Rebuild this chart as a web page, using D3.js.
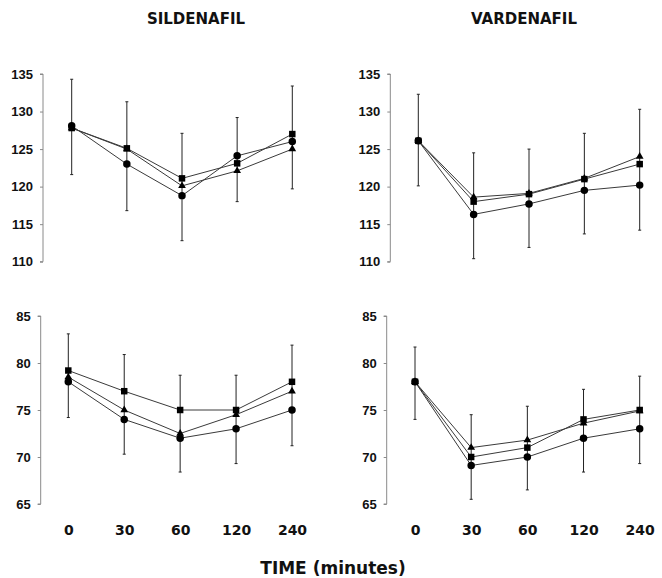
<!DOCTYPE html>
<html>
<head>
<meta charset="utf-8">
<script src="https://cdn.jsdelivr.net/npm/d3@7"></script>
<style>
  html, body { margin: 0; padding: 0; background: #fff; }
  svg { display: block; }
</style>
</head>
<body>
<svg id="chart" width="662" height="578"></svg>
<script>
// ---- data ----
const times = ["0", "30", "60", "120", "240"];
const drugTitles = ["SILDENAFIL", "VARDENAFIL"];
const xTitle = "TIME (minutes)";

const topTicks = [110, 115, 120, 125, 130, 135];
const bottomTicks = [65, 70, 75, 80, 85];

// Sildenafil, top (systolic)
const silTopSquare   = [127.8, 125.1, 121.1, 123.1, 127.0];
const silTopTriangle = [127.8, 125.0, 120.1, 122.1, 125.0];
const silTopCircle   = [128.1, 123.0, 118.8, 124.1, 126.0];
const silTopErrHi    = [134.3, 131.3, 127.1, 129.2, 133.4];
const silTopErrLo    = [121.6, 116.8, 112.8, 118.0, 119.7];

// Vardenafil, top (systolic)
const varTopSquare   = [126.1, 118.0, 119.0, 121.0, 123.0];
const varTopTriangle = [126.1, 118.6, 119.1, 121.1, 124.0];
const varTopCircle   = [126.1, 116.3, 117.7, 119.5, 120.2];
const varTopErrHi    = [132.3, 124.5, 125.0, 127.1, 130.3];
const varTopErrLo    = [120.1, 110.4, 111.9, 113.7, 114.2];

// Sildenafil, bottom (diastolic)
const silBotSquare   = [79.2, 77.0, 75.0, 75.0, 78.0];
const silBotTriangle = [78.5, 75.0, 72.5, 74.5, 77.0];
const silBotCircle   = [78.0, 74.0, 72.0, 73.0, 75.0];
const silBotErrHi    = [83.1, 80.9, 78.7, 78.7, 81.9];
const silBotErrLo    = [74.2, 70.3, 68.4, 69.3, 71.2];

// Vardenafil, bottom (diastolic)
const varBotSquare   = [78.0, 70.0, 71.0, 74.0, 75.0];
const varBotTriangle = [78.0, 71.0, 71.8, 73.6, 74.9];
const varBotCircle   = [78.0, 69.1, 70.0, 72.0, 73.0];
const varBotErrHi    = [81.7, 74.5, 75.4, 77.2, 78.6];
const varBotErrLo    = [74.0, 65.5, 66.5, 68.4, 69.3];

// ---- layout ----
const panels = [
  { axisX: 43,    x0: 71.7, x1: 292.3, y0: 261.7, y1: 74,  domain: [110, 135], ticks: topTicks,
    sq: silTopSquare, tri: silTopTriangle, ci: silTopCircle, hi: silTopErrHi, lo: silTopErrLo, xLabels: false },
  { axisX: 390.3, x0: 418.3, x1: 639.7, y0: 261.7, y1: 74,  domain: [110, 135], ticks: topTicks,
    sq: varTopSquare, tri: varTopTriangle, ci: varTopCircle, hi: varTopErrHi, lo: varTopErrLo, xLabels: false },
  { axisX: 40.7,  x0: 68.3, x1: 292,   y0: 504,   y1: 316, domain: [65, 85],   ticks: bottomTicks,
    sq: silBotSquare, tri: silBotTriangle, ci: silBotCircle, hi: silBotErrHi, lo: silBotErrLo, xLabels: true },
  { axisX: 386.7, x0: 415,  x1: 639.7, y0: 504,   y1: 316, domain: [65, 85],   ticks: bottomTicks,
    sq: varBotSquare, tri: varBotTriangle, ci: varBotCircle, hi: varBotErrHi, lo: varBotErrLo, xLabels: true }
];

const svg = d3.select("#chart");

// titles
svg.append("text").attr("x", 196).attr("y", 24).attr("text-anchor", "middle")
  .style("font-family", "'DejaVu Sans', Verdana, sans-serif").style("font-weight", "bold")
  .style("font-size", "15px").attr("fill", "#111").text(drugTitles[0]);
svg.append("text").attr("x", 524).attr("y", 24).attr("text-anchor", "middle")
  .style("font-family", "'DejaVu Sans', Verdana, sans-serif").style("font-weight", "bold")
  .style("font-size", "15px").attr("fill", "#111").text(drugTitles[1]);
svg.append("text").attr("x", 333).attr("y", 574).attr("text-anchor", "middle")
  .style("font-family", "'DejaVu Sans', Verdana, sans-serif").style("font-weight", "bold")
  .style("font-size", "17px").attr("fill", "#111").text(xTitle);

const lineColor = "#3a3a3a";

panels.forEach(p => {
  const x = d3.scalePoint().domain(times).range([p.x0, p.x1]);
  const y = d3.scaleLinear().domain(p.domain).range([p.y0, p.y1]);
  const g = svg.append("g");

  // y axis
  const yAxis = d3.axisLeft(y).tickValues(p.ticks).tickSize(3).tickPadding(7).tickFormat(d3.format("d"));
  const ya = g.append("g").attr("transform", `translate(${p.axisX},0)`).call(yAxis);
  ya.select(".domain").attr("stroke", "#8a8a8a").attr("d", `M-3,${p.y0}H0V${p.y1}H-3`);
  ya.selectAll(".tick line").attr("stroke", "#8a8a8a");
  ya.selectAll(".tick text")
    .style("font-family", "'Liberation Sans', Arial, sans-serif")
    .style("font-weight", "bold").style("font-size", "13px").attr("fill", "#111");

  // x labels
  if (p.xLabels) {
    const xa = g.append("g").attr("transform", `translate(0,${p.y0})`)
      .call(d3.axisBottom(x).tickSize(0).tickPadding(21));
    xa.select(".domain").remove();
    xa.selectAll(".tick text")
      .style("font-family", "'DejaVu Sans', Verdana, sans-serif")
      .style("font-weight", "bold").style("font-size", "14px").attr("fill", "#111");
  }

  // error bars
  const eb = g.append("g").attr("stroke", "#222").attr("stroke-width", 1);
  times.forEach((t, i) => {
    const cx = x(t);
    eb.append("line").attr("x1", cx).attr("x2", cx).attr("y1", y(p.hi[i])).attr("y2", y(p.lo[i]));
    eb.append("line").attr("x1", cx - 1.5).attr("x2", cx + 1.5).attr("y1", y(p.hi[i])).attr("y2", y(p.hi[i]));
    eb.append("line").attr("x1", cx - 1.5).attr("x2", cx + 1.5).attr("y1", y(p.lo[i])).attr("y2", y(p.lo[i]));
  });

  const line = d3.line().x((d, i) => x(times[i])).y(d => y(d));
  [p.sq, p.tri, p.ci].forEach(s => {
    g.append("path").datum(s).attr("d", line).attr("fill", "none")
      .attr("stroke", lineColor).attr("stroke-width", 1);
  });

  // markers
  const sqSym = d3.symbol().type(d3.symbolSquare).size(42);
  const triSym = d3.symbol().type(d3.symbolTriangle).size(26);
  const ciSym = d3.symbol().type(d3.symbolCircle).size(44);
  g.selectAll(null).data(p.sq).enter().append("path")
    .attr("d", sqSym).attr("transform", (d, i) => `translate(${x(times[i])},${y(d)})`).attr("fill", "#000");
  g.selectAll(null).data(p.tri).enter().append("path")
    .attr("d", triSym).attr("transform", (d, i) => `translate(${x(times[i])},${y(d)})`).attr("fill", "#000");
  g.selectAll(null).data(p.ci).enter().append("path")
    .attr("d", ciSym).attr("transform", (d, i) => `translate(${x(times[i])},${y(d)})`).attr("fill", "#000");
});
</script>
</body>
</html>
